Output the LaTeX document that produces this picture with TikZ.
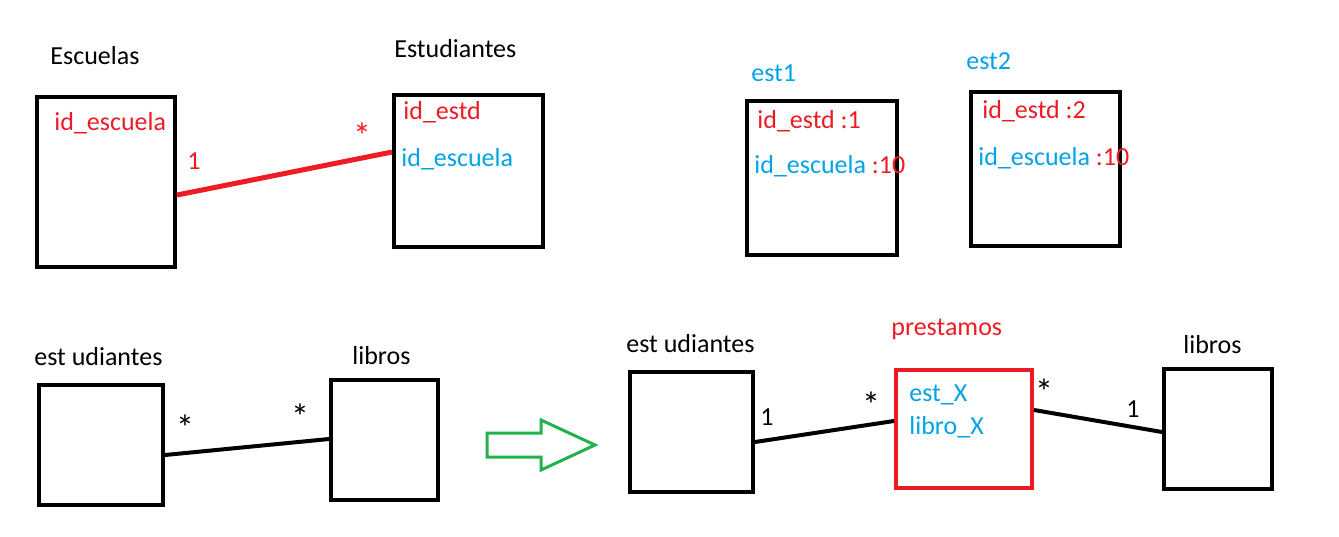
\documentclass[tikz,border=0pt]{standalone}
\usepackage{fontspec}
\setmainfont{Carlito}
\usepackage{tikz}
\definecolor{paintred}{RGB}{237,28,36}
\definecolor{paintblue}{RGB}{0,162,232}
\definecolor{paintgreen}{RGB}{34,177,76}

\begin{document}
\begin{tikzpicture}[x=0.5pt,y=-0.5pt,
  tabla/.style={draw,line width=2pt,inner sep=0pt},
  txt/.style={anchor=base west,inner sep=0pt,font=\fontsize{13}{15}\selectfont},
  mult/.style={anchor=base,inner sep=0pt,font=\fontsize{13}{15}\selectfont},
  ast/.style={anchor=base,inner sep=0pt,font=\fontsize{18}{20}\selectfont}]

\useasboundingbox (0,0) rectangle (1339,536);

% Draw tables Escuelas and Estudiantes, and the red relation line.
\node[tabla,minimum width=69pt,minimum height=85pt] (escuelas) at (106,182) {};
\node[tabla,minimum width=74.5pt,minimum height=76pt] (estudiantes) at (468.5,171) {};
\node[txt] (tEscuelas) at (50,64) {Escuelas};
\node[txt] (tEstudiantes) at (394,57) {Estudiantes};
\node[txt,paintred] (idEsc) at (54,130) {id\_escuela};
\node[txt,paintred] (idEstd) at (403,119) {id\_estd};
\node[txt,paintblue] (idEscFk) at (401,166) {id\_escuela};
\draw[line width=2.5pt,color=paintred] ([yshift=-6.5pt]escuelas.east) -- ([yshift=9.5pt]estudiantes.west);
\node[mult,paintred] (uno) at (194,169) {1};
\node[ast,paintred] (muchos) at (362,148) {*};

% Draw the two example rows est1 and est2.
\node[tabla,minimum width=75pt,minimum height=77pt] (est1) at (822,178) {};
\node[tabla,minimum width=74.5pt,minimum height=77pt] (est2) at (1045.5,169) {};
\node[txt,paintblue] (tEst1) at (751,81) {est1};
\node[txt,paintblue] (tEst2) at (966,69) {est2};
\node[txt,paintred] (idEstd1) at (757,128) {id\_estd :1};
\node[txt] (idEsc1) at (754,173) {\textcolor{paintblue}{id\_escuela} \textcolor{paintred}{:10}};
\node[txt,paintred] (idEstd2) at (982,118) {id\_estd :2};
\node[txt] (idEsc2) at (978,165) {\textcolor{paintblue}{id\_escuela} \textcolor{paintred}{:10}};

% Draw the many to many relation.
\node[tabla,minimum width=62pt,minimum height=60pt] (alumnos) at (101,445) {};
\node[tabla,minimum width=53.5pt,minimum height=60pt] (libros) at (384.5,440) {};
\node[txt] (tAlumnos) at (34,365) {est udiantes};
\node[txt] (tLibros) at (352,364) {libros};
\draw[line width=2pt] ([yshift=-5pt]alumnos.east) -- ([yshift=0.5pt]libros.west);
\node[ast] (muchosA) at (185,440) {*};
\node[ast] (muchosB) at (300,429) {*};

% Green arrow.
\draw[line width=1.5pt,color=paintgreen] (487,433) -- (541,433) -- (541,420) -- (595,445)
  -- (541,470) -- (541,457) -- (487,457) -- cycle;

% Draw the relation split by the table prestamos.
\node[tabla,minimum width=61.5pt,minimum height=60pt] (alumnos2) at (691.5,432) {};
\node[tabla,paintred,minimum width=68pt,minimum height=59pt] (prestamos) at (964,429) {};
\node[tabla,minimum width=54pt,minimum height=60pt] (libros2) at (1218,429) {};
\node[txt] (tAlumnos2) at (626,352) {est udiantes};
\node[txt,paintred] (tPrestamos) at (891,335) {prestamos};
\node[txt] (tLibros2) at (1183,353) {libros};
\node[txt,paintblue] (estX) at (909,401) {est\_X};
\node[txt,paintblue] (libroX) at (909,434) {libro\_X};
\draw[line width=2pt] ([yshift=-5pt]alumnos2.east) -- ([yshift=4pt]prestamos.west);
\draw[line width=2pt] ([yshift=9.5pt]prestamos.east) -- ([yshift=-1.5pt]libros2.west);
\node[mult] (unoA) at (767,425) {1};
\node[ast] (muchosC) at (871,417) {*};
\node[ast] (muchosD) at (1044,404) {*};
\node[mult] (unoB) at (1133,417) {1};

\end{tikzpicture}
\end{document}
